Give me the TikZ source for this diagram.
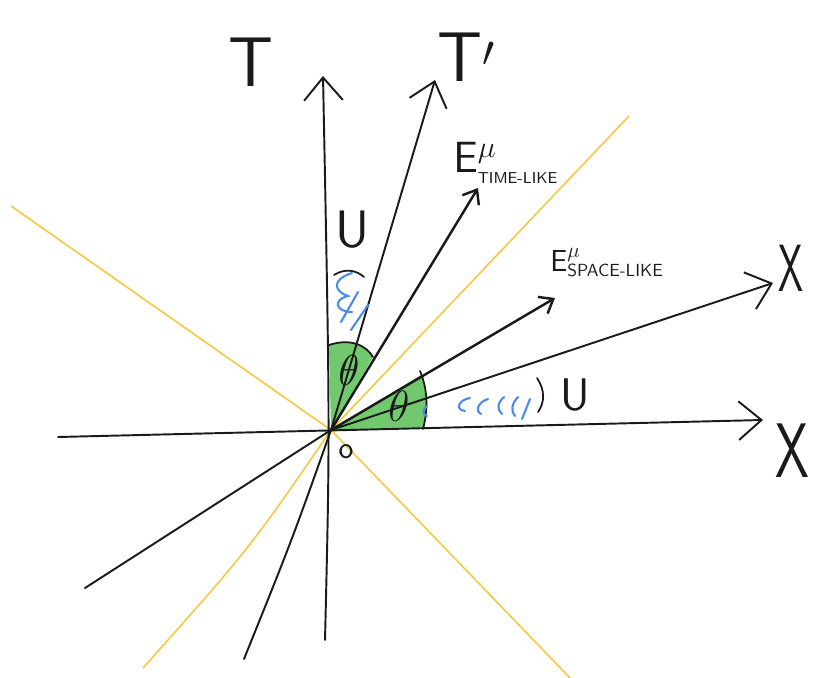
\documentclass[tikz,border=0pt]{standalone}
\usepackage{graphicx}
\usetikzlibrary{arrows.meta}
\definecolor{tinta}{HTML}{1A1A1A}
\definecolor{amarillo}{HTML}{F5C842}
\definecolor{verde}{HTML}{62C25E}
\definecolor{azul}{HTML}{4B8BEA}

\begin{document}
\begin{tikzpicture}[x=0.02cm, y=-0.02cm,
	eje/.style={draw=tinta, line width=1.1pt, line cap=round, -{Straight Barb[length=13pt,width=22pt]}},
	vector/.style={draw=tinta, line width=1.4pt, line cap=round, -{Straight Barb[length=7pt,width=11pt]}},
	cono/.style={draw=amarillo, line width=0.9pt},
	sector/.style={fill=verde, fill opacity=0.9, draw=none},
	arco/.style={draw=tinta, line width=1pt, line cap=round},
	rayita/.style={draw=azul, line width=1.2pt, line cap=round},
	rotulo/.style={inner sep=0pt, text=tinta, font=\sffamily\fontsize{#1}{#1}\selectfont}]
	\useasboundingbox (0,0) rectangle (813,678);
	% puntos
	\coordinate (O) at (331,430);
	\coordinate (Tb) at (325,640);
	\coordinate (Tt) at (323,76);
	\coordinate (Xi) at (58,437);
	\coordinate (Xd) at (763,420);
	\coordinate (Tpb) at (244,659);
	\coordinate (Tpt) at (435,80);
	\coordinate (Xpb) at (85,588);
	\coordinate (Xpt) at (773,283);
	\coordinate (Et) at (478,188);
	\coordinate (Es) at (555,298);
	\coordinate (Ca) at (11,206);
	\coordinate (Cb) at (572,680);
	\coordinate (Cc) at (143,668);
	\coordinate (Cd) at (629,116);
	% cono de luz
	\draw[cono] (Ca) -- (O) -- (Cb);
	\draw[cono] (Cc) .. controls (250,548) .. (O) -- (Cd);
	% sectores
	\fill[sector] (O) -- (329,345) .. controls (350,338) and (366,345) .. (373,357) -- cycle;
	\fill[sector] (O) -- (421,375) .. controls (427,392) and (427,412) .. (424,428) -- cycle;
	% ejes
	\draw[eje] (Tb) .. controls (330,430) .. (Tt);
	\draw[eje] (Xi) -- (Xd);
	\draw[eje] (Tpb) .. controls (292,540) .. (O) -- (Tpt);
	\draw[eje] (Xpb) -- (O) -- (Xpt);
	\draw[vector] (O) -- (Et);
	\draw[vector] (O) -- (Es);
	% arcos
	\draw[arco] (329,345) .. controls (350,338) and (366,345) .. (373,357);
	\draw[arco] (420,371) .. controls (428,390) and (428,410) .. (423,429);
	\draw[arco] (334,275) .. controls (345,268) and (356,270) .. (364,277);
	\draw[arco] (537,378) .. controls (545,390) and (545,402) .. (538,412);
	% rayitas
	\draw[rayita] (352,273) .. controls (330,280) and (335,292) .. (348,296) .. controls (332,300) and (336,312) .. (352,312);
	\draw[rayita] (358,292) -- (341,322);
	\draw[rayita] (368,305) -- (351,330);
	\draw[rayita] (470,398) .. controls (458,400) and (455,410) .. (465,411);
	\draw[rayita] (488,399) .. controls (478,402) and (475,411) .. (481,414);
	\draw[rayita] (504,397) .. controls (497,403) and (497,410) .. (502,414);
	\draw[rayita] (518,397) .. controls (511,404) and (511,412) .. (515,416);
	\draw[rayita] (530,399) -- (522,419);
	\draw[rayita] (427,406) .. controls (422,409) and (423,416) .. (427,416);
	% rotulos
	\node[rotulo=40] (lT) at (251,62) {T};
	\node[rotulo=40, anchor=base west] (lTp) at (437,82) {T$'$};
	\node[rotulo=38] (lXp) at (791,268) {\scalebox{0.6}[1]{X}};
	\node[rotulo=44] (lX) at (792,451) {\scalebox{0.7}[1]{X}};
	\node[rotulo=30] (lUt) at (352,230) {U};
	\node[rotulo=26] (lUx) at (575,395) {U};
	\node[rotulo=26] (thA) at (349,370) {$\theta$};
	\node[rotulo=23] (thB) at (399,406) {$\theta$};
	\node[rotulo=18] (lO) at (346,452) {o};
	\node[rotulo=27, anchor=base west] (lEt) at (453,173)
		{$\mathsf{E}^{\mu}_{\mbox{\fontsize{9}{9}\selectfont\sffamily TIME-LIKE}}$};
	\node[rotulo=18, anchor=base west] (lEs) at (550,272)
		{$\mathsf{E}^{\mu}_{\mbox{\fontsize{10}{10}\selectfont\sffamily SPACE-LIKE}}$};
\end{tikzpicture}
\end{document}
